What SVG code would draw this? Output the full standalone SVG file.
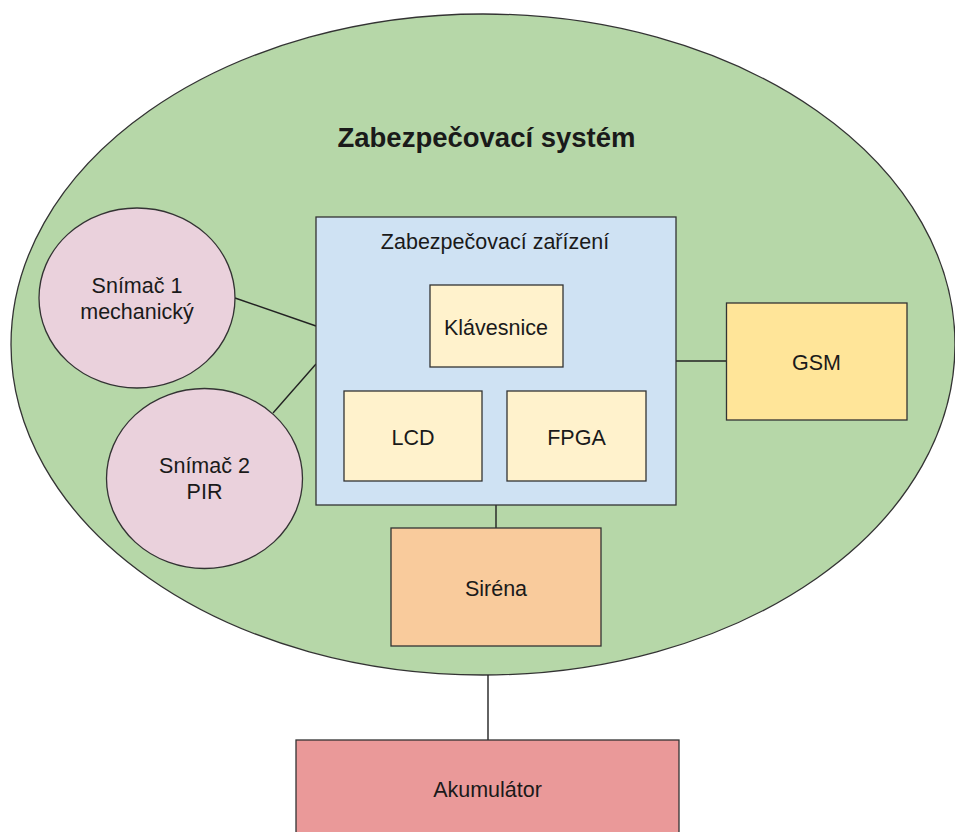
<svg xmlns="http://www.w3.org/2000/svg" width="955" height="832" viewBox="0 0 955 832">
<style>
.s{stroke:#333333;stroke-width:1.3}
.t{font-family:"Liberation Sans",Arial,sans-serif;font-size:21.5px;fill:#1a1a1a;text-anchor:middle}
.c{stroke:#222222;stroke-width:1.4;fill:none}
</style>
<rect width="955" height="832" fill="#ffffff"/>
<g id="system">
<ellipse class="s" cx="483" cy="344.5" rx="472" ry="330.5" fill="#b6d7a8"/>
<text class="t" x="486.5" y="147" style="font-weight:bold;font-size:27.5px">Zabezpečovací systém</text>
</g>
<g id="connectors">
<line class="c" x1="235" y1="298" x2="316" y2="326"/>
<line class="c" x1="273" y1="413" x2="316" y2="364"/>
<line class="c" x1="676" y1="361" x2="726" y2="361"/>
<line class="c" x1="496" y1="505" x2="496" y2="528"/>
<line class="c" x1="488" y1="675" x2="488" y2="740"/>
</g>
<g id="snimac1">
<ellipse class="s" cx="137" cy="298" rx="98" ry="90" fill="#ead1dc"/>
<text class="t" x="137" y="293">Snímač 1</text>
<text class="t" x="137" y="319">mechanický</text>
</g>
<g id="snimac2">
<ellipse class="s" cx="204.5" cy="478.5" rx="98" ry="90" fill="#ead1dc"/>
<text class="t" x="204.5" y="473">Snímač 2</text>
<text class="t" x="204.5" y="499">PIR</text>
</g>
<g id="zarizeni">
<rect class="s" x="316" y="217" width="360" height="288" fill="#cfe2f3"/>
<text class="t" x="495" y="249">Zabezpečovací zařízení</text>
</g>
<g id="klavesnice">
<rect class="s" x="430" y="285" width="133" height="82" fill="#fff2cc"/>
<text class="t" x="496" y="335">Klávesnice</text>
</g>
<g id="lcd">
<rect class="s" x="344" y="391" width="138" height="90" fill="#fff2cc"/>
<text class="t" x="413" y="445">LCD</text>
</g>
<g id="fpga">
<rect class="s" x="507" y="391" width="139" height="90" fill="#fff2cc"/>
<text class="t" x="576.5" y="445">FPGA</text>
</g>
<g id="gsm">
<rect class="s" x="726.5" y="303" width="180.5" height="117" fill="#ffe599"/>
<text class="t" x="816.5" y="370">GSM</text>
</g>
<g id="sirena">
<rect class="s" x="391" y="528" width="210" height="118" fill="#f9cb9c"/>
<text class="t" x="496" y="596">Siréna</text>
</g>
<g id="akumulator">
<rect class="s" x="296" y="740" width="383" height="110" fill="#ea9999"/>
<text class="t" x="487.5" y="797">Akumulátor</text>
</g>
</svg>
